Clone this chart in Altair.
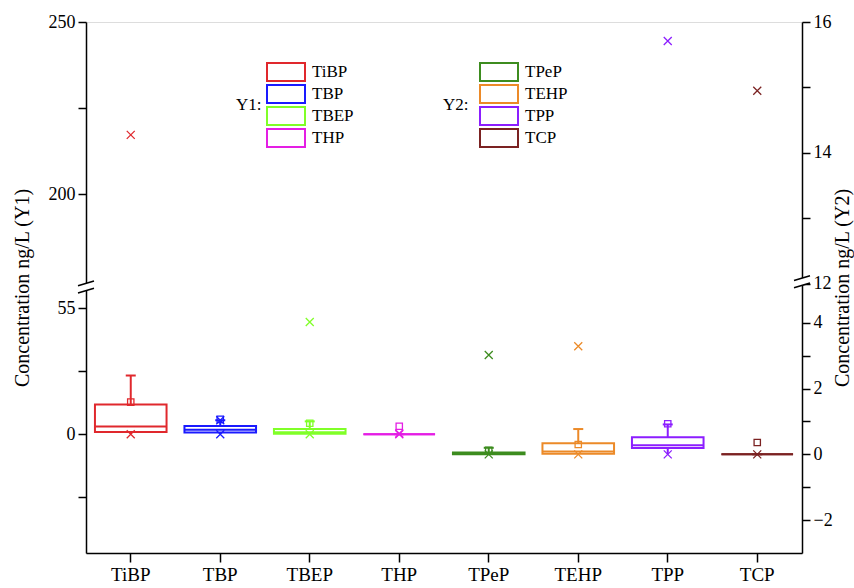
import altair as alt
import pandas as pd

# ---- data ----
categories = ["TiBP", "TBP", "TBEP", "THP", "TPeP", "TEHP", "TPP", "TCP"]
groups = ["Y1", "Y1", "Y1", "Y1", "Y2", "Y2", "Y2", "Y2"]
q1 = [1.0, 0.7, 0.2, 0.0, 0.0, 0.02, 0.19, 0.0]
median = [3.4, 2.0, 0.9, 0.0, 0.02, 0.09, 0.28, 0.0]
q3 = [13.0, 3.6, 2.3, 0.0, 0.06, 0.34, 0.52, 0.0]
whisker_low = [0.0, 0.0, 0.0, 0.0, 0.0, 0.0, 0.0, 0.0]
whisker_high = [25.6, 6.1, 5.6, 0.0, 0.2, 0.77, 0.91, 0.0]
mean = [14.0, 6.5, 4.8, 3.5, 0.12, 0.30, 0.93, 0.36]
minimum = [0.0, 0.0, 0.0, 0.0, 0.0, 0.0, 0.0, 0.0]
maximum = [217.2, 6.1, 48.9, 0.3, 3.02, 3.29, 15.71, 14.95]
colors = ["#e0282d", "#1a1aff", "#80ff28", "#e41ee4",
          "#3d8c1f", "#ec8a28", "#8c1eff", "#7b2222"]

# broken-axis definitions (domain pieces)
y1_domain = [-51.8, 64.2, 173.0, 250.0]
y2_domain = [-3.0, 5.09, 11.95, 16.0]
y1_ticks = [-27.5, 0, 27.5, 55, 200, 225, 250]
y1_labels = [0, 55, 200, 250]
y2_ticks = [-2, -1, 0, 1, 2, 3, 4, 12, 13, 14, 15, 16]
y2_labels = [-2, 0, 2, 4, 12, 14, 16]
y1_break = [100.0]
y2_break = [12.03]

W, H = 716, 531
BREAK_PX = 265

df = pd.DataFrame({
    "cat": categories, "grp": groups, "q1": q1, "median": median, "q3": q3,
    "wlo": whisker_low, "whi": whisker_high, "mean": mean,
    "minimum": minimum, "maximum": maximum,
})

FONT = "Liberation Serif, Times New Roman, serif"
RECT = "M-1,-0.474H1V0.474H-1Z"
XSHAPE = "M-1,-1L1,1M-1,1L1,-1"
HLINE = "M-1,0L1,0"

x_enc = alt.X("cat:N", scale=alt.Scale(domain=categories, paddingInner=0, paddingOuter=0),
              sort=categories,
              axis=alt.Axis(title=None, labelAngle=0, labelFont=FONT, labelFontSize=19,
                            labelColor="black", tickSize=9, tickColor="black", tickWidth=1.5,
                            domainColor="black", domainWidth=1.5, labelPadding=3))


def group_layers(grp, cats, cols, domain, ticks, labels, orient, title, legx, brk, tpad, ltpad):
    rng = [H, BREAK_PX, BREAK_PX, 0]
    scale = alt.Scale(domain=domain, range=rng, nice=False, zero=False)
    lab_expr = "indexof([" + ",".join(str(v) for v in labels) + "], datum.value) >= 0 ? datum.label : ''"
    axis = alt.Axis(title=title, orient=orient, values=ticks, labelExpr=lab_expr,
                    labelFont=FONT, labelFontSize=18, labelColor="black",
                    titleFont=FONT, titleFontSize=20, titleFontWeight="normal",
                    titleColor="black", titleAngle=270, titlePadding=tpad,
                    tickSize=8, tickColor="black", tickWidth=1.5,
                    domainColor="black", domainWidth=1.5, grid=False, labelPadding=3)
    stroke = alt.Stroke("cat:N", scale=alt.Scale(domain=cats, range=cols),
                        legend=alt.Legend(title=grp + ":", orient="none", legendX=legx, legendY=39,
                                          titleOrient="left", titleFont=FONT, titleFontSize=17,
                                          titleFontWeight="normal", titleColor="black",
                                          titleBaseline="middle", titleAnchor="middle",
                                          titlePadding=ltpad, labelFont=FONT, labelFontSize=17,
                                          labelColor="black", labelOffset=6,
                                          symbolType=RECT, symbolSize=1444,
                                          symbolStrokeWidth=2, symbolFillColor="white",
                                          clipHeight=22, rowPadding=0))
    base = alt.Chart(df).transform_filter(alt.datum.grp == grp)

    box = base.mark_bar(fill="white", strokeWidth=2, width=alt.RelativeBandSize(0.8)).encode(
        x=x_enc, y=alt.Y("q3:Q", scale=scale, axis=axis), y2="q1:Q", stroke=stroke)
    wh_up = base.mark_rule(strokeWidth=2).encode(
        x=x_enc, y=alt.Y("q3:Q", scale=scale, axis=axis), y2="whi:Q", stroke=stroke)
    wh_lo = base.mark_rule(strokeWidth=2).encode(
        x=x_enc, y=alt.Y("q1:Q", scale=scale, axis=axis), y2="wlo:Q", stroke=stroke)
    med = base.mark_point(shape=HLINE, size=71.6 ** 2, strokeWidth=2, opacity=1).encode(
        x=x_enc, y=alt.Y("median:Q", scale=scale, axis=axis), stroke=stroke)
    cap = base.mark_point(shape=HLINE, size=100, strokeWidth=2, opacity=1).encode(
        x=x_enc, y=alt.Y("whi:Q", scale=scale, axis=axis), stroke=stroke)
    mn = base.mark_point(shape="square", size=40, strokeWidth=1.3, opacity=1).encode(
        x=x_enc, y=alt.Y("mean:Q", scale=scale, axis=axis), stroke=stroke)
    ext = base.transform_fold(["minimum", "maximum"], as_=["stat", "val"]).mark_point(
        shape=XSHAPE, size=64, strokeWidth=1.3, opacity=1).encode(
        x=x_enc, y=alt.Y("val:Q", scale=scale, axis=axis), stroke=stroke)

    bdf = pd.DataFrame({"b": brk})
    xpix = 0 if orient == "left" else W
    mask = alt.Chart(bdf).mark_point(
        shape="M-1,-0.15L1,-0.75L1,0.15L-1,0.75Z", size=256, filled=True,
        fill="white", strokeWidth=0, opacity=1).encode(
        x=alt.value(xpix), y=alt.Y("b:Q", scale=scale, axis=axis))
    slash = alt.Chart(bdf).mark_point(
        shape="M-1,-0.15L1,-0.75M-1,0.75L1,0.15", size=256, filled=False,
        stroke="black", strokeWidth=1.5, opacity=1).encode(
        x=alt.value(xpix), y=alt.Y("b:Q", scale=scale, axis=axis))

    return alt.layer(box, wh_up, wh_lo, med, cap, mn, ext, mask, slash)


left = group_layers("Y1", categories[:4], colors[:4], y1_domain, y1_ticks, y1_labels,
                    "left", "Concentration ng/L (Y1)", 150, y1_break, 16, 4)
right = group_layers("Y2", categories[4:], colors[4:], y2_domain, y2_ticks, y2_labels,
                     "right", "Concentration ng/L (Y2)", 357, y2_break, 20, 10)

chart = alt.layer(left, right).resolve_scale(y="independent", stroke="independent").properties(
    width=W, height=H, autosize="none",
    padding={"left": 86, "top": 22, "right": 52, "bottom": 35},
).configure_view(stroke="black", strokeWidth=1.5).configure(background="white")

chart.save("out.html", embed_options={"renderer": "svg", "actions": False})
